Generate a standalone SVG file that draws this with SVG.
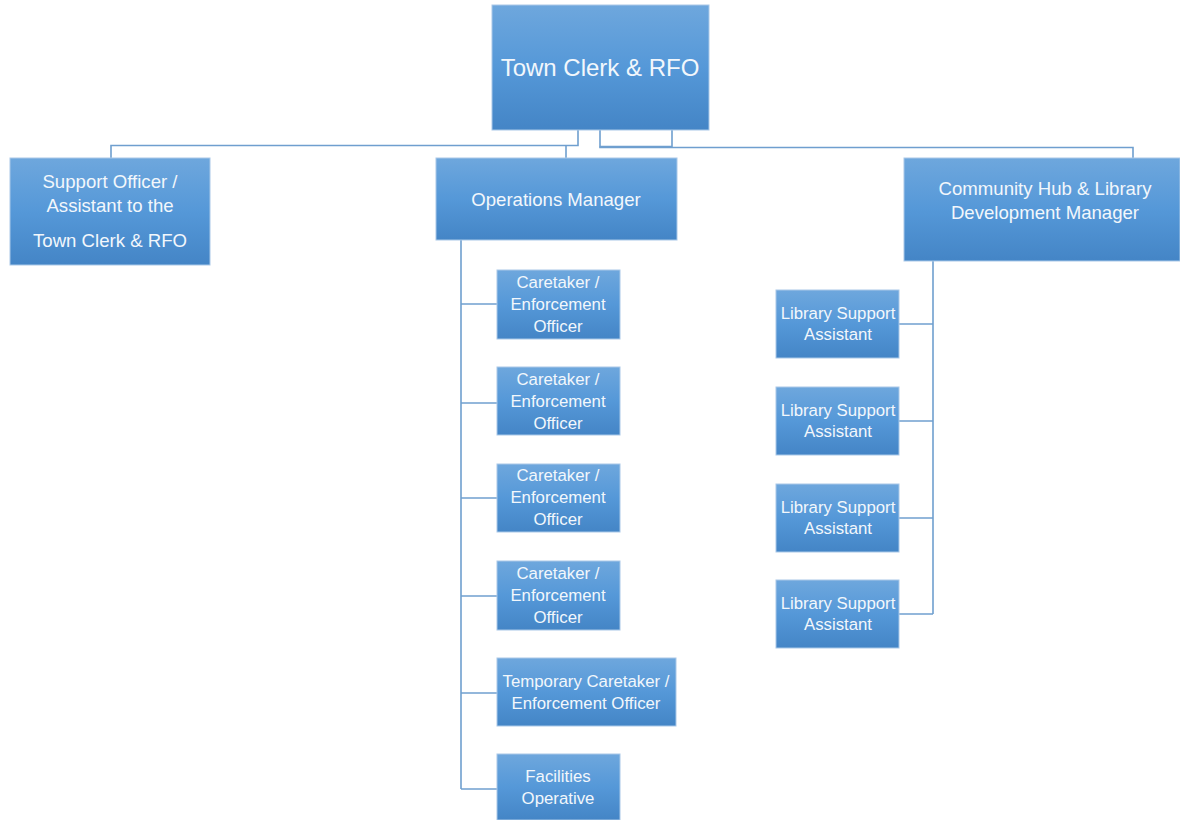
<svg xmlns="http://www.w3.org/2000/svg" width="1180" height="820" viewBox="0 0 1180 820">
<defs>
<linearGradient id="g" x1="0" y1="0" x2="0" y2="1">
<stop offset="0" stop-color="#6ea7dd"/>
<stop offset="0.5" stop-color="#5598d8"/>
<stop offset="1" stop-color="#4485c6"/>
</linearGradient>
</defs>
<style>
.box{fill:url(#g);stroke:#a9c8e8;stroke-width:1}
.t{font-family:"Liberation Sans",Arial,sans-serif;fill:#f2f7fc;text-anchor:middle}
.s{font-size:16.8px}
.m{font-size:18.6px}
.c{fill:none;stroke:#6f9fcf;stroke-width:1.6}
</style>
<rect width="1180" height="820" fill="#ffffff"/>
<g id="connectors">
<polyline class="c" points="111,158 111,145.5 578,145.5 578,130"/>
<line class="c" x1="566" y1="145.5" x2="566" y2="158"/>
<polyline class="c" points="600,130 600,146.5 672,146.5 672,130"/>
<polyline class="c" points="600,146.5 600,147.5 1133,147.5 1133,158"/>
<line class="c" x1="461" y1="240" x2="461" y2="789"/>
<line class="c" x1="461" y1="304" x2="497" y2="304"/>
<line class="c" x1="461" y1="403" x2="497" y2="403"/>
<line class="c" x1="461" y1="498" x2="497" y2="498"/>
<line class="c" x1="461" y1="596" x2="497" y2="596"/>
<line class="c" x1="461" y1="693" x2="497" y2="693"/>
<line class="c" x1="461" y1="789" x2="497" y2="789"/>
<line class="c" x1="933" y1="261" x2="933" y2="614"/>
<line class="c" x1="899" y1="324" x2="933" y2="324"/>
<line class="c" x1="899" y1="421" x2="933" y2="421"/>
<line class="c" x1="899" y1="518" x2="933" y2="518"/>
<line class="c" x1="899" y1="614" x2="933" y2="614"/>
</g>
<g id="town-clerk">
<rect class="box" x="492" y="5" width="217" height="125"/>
<text class="t" x="600" y="76" font-size="24">Town Clerk &amp; RFO</text>
</g>
<g id="support-officer">
<rect class="box" x="10" y="158" width="200" height="107"/>
<text class="t m" x="110" y="188">Support Officer /</text>
<text class="t m" x="110" y="212">Assistant to the</text>
<text class="t m" x="110" y="247">Town Clerk &amp; RFO</text>
</g>
<g id="operations-manager">
<rect class="box" x="436" y="158" width="241" height="82"/>
<text class="t m" x="556" y="206">Operations Manager</text>
</g>
<g id="community-hub">
<rect class="box" x="904" y="158" width="276" height="103"/>
<text class="t m" x="1045" y="195">Community Hub &amp; Library</text>
<text class="t m" x="1045" y="219">Development Manager</text>
</g>
<g id="caretaker-1">
<rect class="box" x="497" y="270" width="123" height="69"/>
<text class="t s" x="558" y="288">Caretaker /</text>
<text class="t s" x="558" y="310">Enforcement</text>
<text class="t s" x="558" y="332">Officer</text>
</g>
<g id="caretaker-2">
<rect class="box" x="497" y="367" width="123" height="68"/>
<text class="t s" x="558" y="385">Caretaker /</text>
<text class="t s" x="558" y="407">Enforcement</text>
<text class="t s" x="558" y="429">Officer</text>
</g>
<g id="caretaker-3">
<rect class="box" x="497" y="464" width="123" height="68"/>
<text class="t s" x="558" y="481">Caretaker /</text>
<text class="t s" x="558" y="503">Enforcement</text>
<text class="t s" x="558" y="525">Officer</text>
</g>
<g id="caretaker-4">
<rect class="box" x="497" y="561" width="123" height="69"/>
<text class="t s" x="558" y="579">Caretaker /</text>
<text class="t s" x="558" y="601">Enforcement</text>
<text class="t s" x="558" y="623">Officer</text>
</g>
<g id="temporary-caretaker">
<rect class="box" x="497" y="658" width="179" height="68"/>
<text class="t s" x="586" y="687">Temporary Caretaker /</text>
<text class="t s" x="586" y="709">Enforcement Officer</text>
</g>
<g id="facilities-operative">
<rect class="box" x="497" y="754" width="123" height="66"/>
<text class="t s" x="558" y="782">Facilities</text>
<text class="t s" x="558" y="804">Operative</text>
</g>
<g id="library-1">
<rect class="box" x="776" y="290" width="123" height="68"/>
<text class="t s" x="838" y="319">Library Support</text>
<text class="t s" x="838" y="340">Assistant</text>
</g>
<g id="library-2">
<rect class="box" x="776" y="387" width="123" height="68"/>
<text class="t s" x="838" y="416">Library Support</text>
<text class="t s" x="838" y="437">Assistant</text>
</g>
<g id="library-3">
<rect class="box" x="776" y="484" width="123" height="68"/>
<text class="t s" x="838" y="513">Library Support</text>
<text class="t s" x="838" y="534">Assistant</text>
</g>
<g id="library-4">
<rect class="box" x="776" y="580" width="123" height="68"/>
<text class="t s" x="838" y="609">Library Support</text>
<text class="t s" x="838" y="630">Assistant</text>
</g>
</svg>
